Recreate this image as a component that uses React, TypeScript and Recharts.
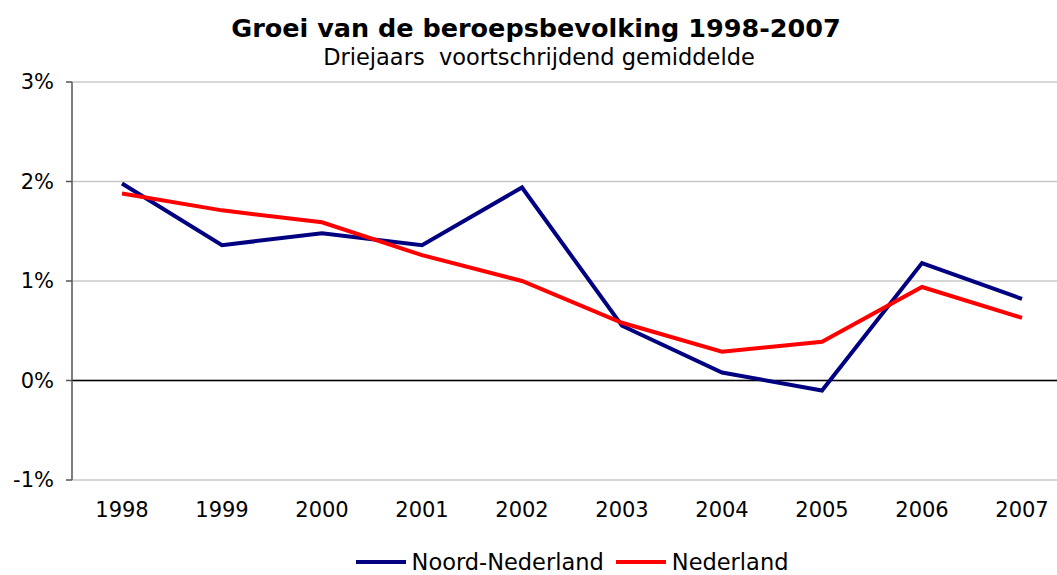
import React from 'react';
import {
  LineChart,
  Line,
  XAxis,
  YAxis,
  CartesianGrid,
  ReferenceLine,
  Legend,
  Customized,
} from 'recharts';

const years = ['1998', '1999', '2000', '2001', '2002', '2003', '2004', '2005', '2006', '2007'];
const noordNederland = [1.98, 1.36, 1.48, 1.36, 1.94, 0.55, 0.08, -0.1, 1.18, 0.82];
const nederland = [1.88, 1.71, 1.59, 1.26, 1.0, 0.58, 0.29, 0.39, 0.94, 0.63];
const yTicks = [-1, 0, 1, 2, 3];

const seriesNames = { noord: 'Noord-Nederland', ned: 'Nederland' };
const colors = { noord: '#000080', ned: '#FF0000' };

const data = years.map((y, i) => ({ year: y, noord: noordNederland[i], ned: nederland[i] }));

const FONT = '"DejaVu Sans", Verdana, sans-serif';

const Title = () => (
  <g>
    <text x={536} y={37} textAnchor="middle" fontFamily={FONT} fontWeight="bold" fontSize={25.5} fill="#000">
      Groei van de beroepsbevolking 1998-2007
    </text>
    <text x={539} y={65} textAnchor="middle" fontFamily={FONT} fontSize={22.5} fill="#000" style={{ whiteSpace: 'pre' }}>
      {'Driejaars\u00a0 voortschrijdend gemiddelde'}
    </text>
  </g>
);

const LegendContent = () => (
  <div
    style={{
      display: 'flex',
      justifyContent: 'center',
      alignItems: 'center',
      fontFamily: FONT,
      fontSize: 22.5,
      color: '#000',
      lineHeight: '24px',
      height: 24,
    }}
  >
    {(['noord', 'ned'] as const).map((k, i) => (
      <div key={k} style={{ display: 'flex', alignItems: 'center', marginLeft: i === 0 ? 0 : 12 }}>
        <svg width={50} height={10} style={{ marginRight: 6 }}>
          <line x1={0} y1={5} x2={50} y2={5} stroke={colors[k]} strokeWidth={4} />
        </svg>
        <span>{seriesNames[k]}</span>
      </div>
    ))}
  </div>
);

export default function App() {
  return (
    <div
      style={{
        position: 'absolute',
        left: 0,
        top: 0,
        width: 1057,
        height: 575,
        overflow: 'hidden',
        background: '#fff',
      }}
    >
      <LineChart
        width={1072}
        height={575}
        data={data}
        margin={{ top: 82, right: 0, left: 0, bottom: 0 }}
      >
        <CartesianGrid vertical={false} stroke="#c8c8c8" strokeWidth={1.5} />
        <XAxis
          dataKey="year"
          axisLine={false}
          tickLine={false}
          tickSize={0}
          tickMargin={22}
          height={95}
          padding={{ left: 50, right: 50 }}
          tick={{ fontFamily: FONT, fontSize: 21, fill: '#000' }}
          interval={0}
        />
        <YAxis
          domain={[-1, 3]}
          ticks={yTicks}
          width={72}
          tickFormatter={(v: number) => `${v}%`}
          axisLine={{ stroke: '#555', strokeWidth: 1.5 }}
          tickLine={{ stroke: '#555', strokeWidth: 1.5 }}
          tickSize={6}
          tickMargin={12}
          tick={{ fontFamily: FONT, fontSize: 21, fill: '#000' }}
          allowDataOverflow
        />
        <ReferenceLine y={0} stroke="#000" strokeWidth={1.5} />
        <Line
          type="linear"
          dataKey="noord"
          name={seriesNames.noord}
          stroke={colors.noord}
          strokeWidth={4}
          dot={false}
          activeDot={false}
          isAnimationActive={false}
        />
        <Line
          type="linear"
          dataKey="ned"
          name={seriesNames.ned}
          stroke={colors.ned}
          strokeWidth={4}
          dot={false}
          activeDot={false}
          isAnimationActive={false}
        />
        <Legend
          verticalAlign="middle"
          align="center"
          content={<LegendContent />}
          wrapperStyle={{ top: 550, left: 72, width: 1000, height: 24 }}
        />
        <Customized component={Title} />
      </LineChart>
    </div>
  );
}
